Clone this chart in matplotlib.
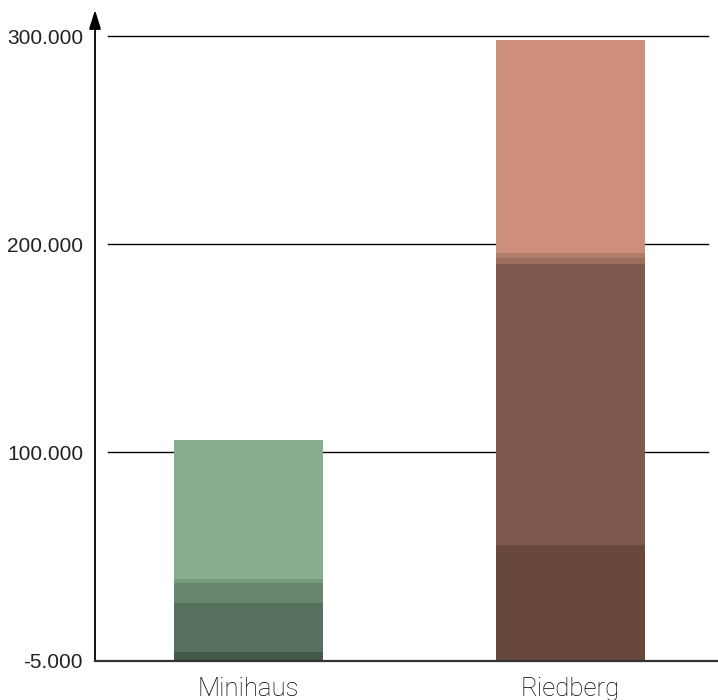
import matplotlib
matplotlib.use("Agg")
import matplotlib.pyplot as plt
import matplotlib.transforms as mtransforms
import numpy as np

# Categories and stacked cost components (EUR), bottom to top
categories = ["Minihaus", "Riedberg"]
segments = {
    "Minihaus": [4200, 23500, 9600, 1900, 66800],
    "Riedberg": [55600, 135100, 2700, 2400, 102300],
}
tick_values = [0, 100000, 200000, 300000]
tick_labels = ["-5.000", "100.000", "200.000", "300.000"]

palettes = {
    "Minihaus": ["#45594a", "#56705e", "#66876e", "#789b7e", "#88ad8e"],
    "Riedberg": ["#68483d", "#80594e", "#9b6e5f", "#b07c6c", "#cd8e7b"],
}

fig = plt.figure(figsize=(7.18, 7.0), dpi=100)
ax = fig.add_axes([95 / 718, 39.3 / 700, 623 / 718, 650.7 / 700])

x = np.arange(len(categories))
bar_width = 0.463
for i, cat in enumerate(categories):
    bottom = 0
    for val, col in zip(segments[cat], palettes[cat]):
        ax.bar(x[i], val, width=bar_width, bottom=bottom, color=col,
               linewidth=0, zorder=3)
        bottom += val

ax.set_xlim(-0.4767, 1.458)
ax.set_ylim(0, 312500)

# horizontal reference lines, detached from the vertical axis
for v in tick_values[1:]:
    ax.axhline(v, xmin=13 / 623, xmax=613 / 623, color="black", lw=1.0, zorder=2)

for s in ["top", "right", "left"]:
    ax.spines[s].set_visible(False)
ax.spines["bottom"].set_color("#333333")
ax.spines["bottom"].set_linewidth(1.6)
ax.spines["bottom"].set_zorder(4)

# vertical axis with arrow head
ax.annotate("", xy=(0, 1.0), xycoords="axes fraction", xytext=(0, 0),
            textcoords="axes fraction",
            arrowprops=dict(arrowstyle="-|>,head_length=1.15,head_width=0.36",
                            lw=1.3, color="black", shrinkA=0, shrinkB=0),
            annotation_clip=False)

ax.set_xticks([])
ax.set_yticks(tick_values)
ax.set_yticklabels(tick_labels, fontsize=15, family="Liberation Sans",
                   color="#222222")
ax.tick_params(axis="y", length=0, pad=8.6)

# category labels below the axis
trans = mtransforms.blended_transform_factory(ax.transData, fig.transFigure)
for i, cat in enumerate(categories):
    fig.text(x[i], 4 / 700, cat, transform=trans, ha="center", va="baseline",
             fontsize=18.5, family=["Roboto", "DejaVu Sans"], fontweight="light",
             color="#000000")

fig.savefig("out.png", dpi=100)
